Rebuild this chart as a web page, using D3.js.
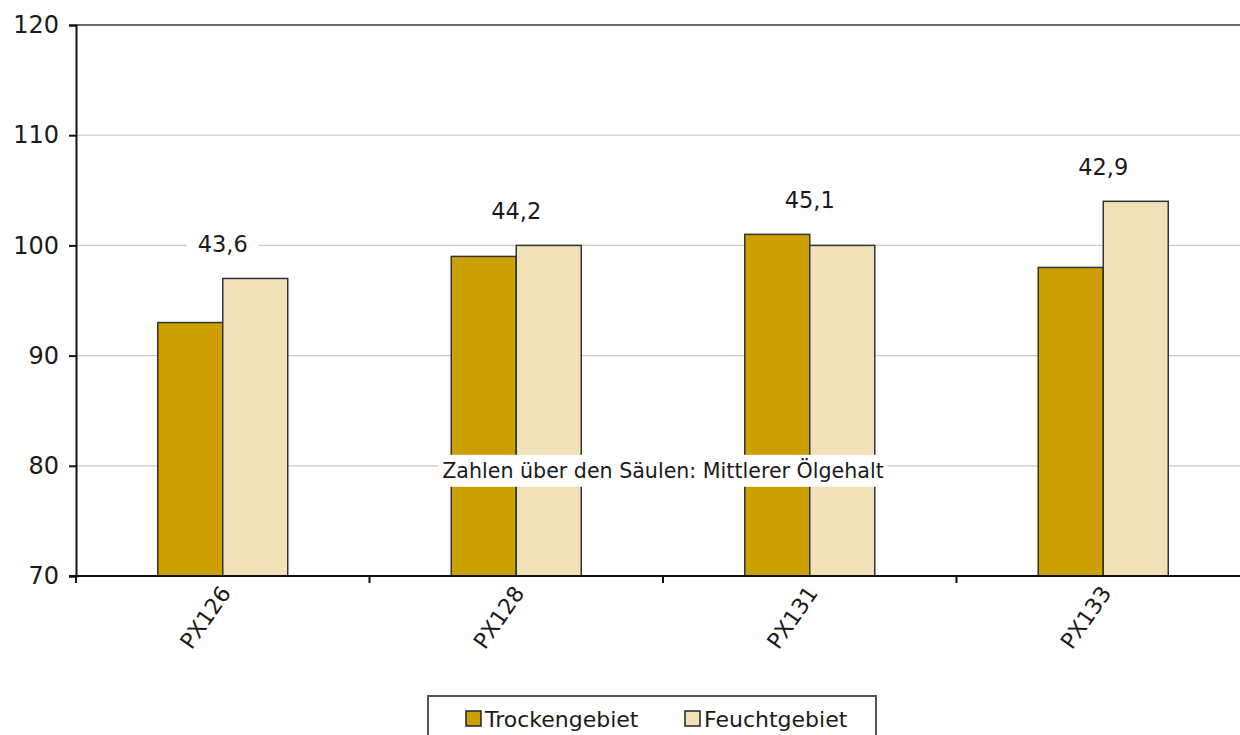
<!DOCTYPE html>
<html>
<head>
<meta charset="utf-8">
<script src="https://cdn.jsdelivr.net/npm/d3@7"></script>
<style>
  body { margin: 0; background: #fff; }
  svg { display: block; }
  text { font-family: "DejaVu Sans", sans-serif; fill: #1a1a1a; }
</style>
</head>
<body>
<svg width="1240" height="735"></svg>
<script>
// Data
const sorten = ['PX126', 'PX128', 'PX131', 'PX133'];
const serien = ['Trockengebiet', 'Feuchtgebiet'];
const trocken = [93, 99, 101, 98];
const feucht = [97, 100, 100, 104];
const oelgehalt = ['43,6', '44,2', '45,1', '42,9'];
const yTicks = [70, 80, 90, 100, 110, 120];
const farben = ['#cca000', '#f0e1b9'];

const svg = d3.select('svg');
const margin = { top: 25, left: 76 };
const plotRight = 1250;   // plot runs past the right edge of the picture
const plotBottom = 576;

const x = d3.scaleBand().domain(sorten).range([margin.left, plotRight]).paddingInner(0).paddingOuter(0);
const x1 = d3.scaleBand().domain(serien).range([0, 130]);
const y = d3.scaleLinear().domain([70, 120]).range([plotBottom, margin.top]);

// gridlines
svg.append('g')
  .selectAll('line')
  .data(yTicks.filter(t => t > 70 && t < 120))
  .enter()
  .append('line')
  .attr('x1', margin.left).attr('x2', plotRight)
  .attr('y1', d => y(d)).attr('y2', d => y(d))
  .attr('stroke', '#c8c8c8').attr('stroke-width', 1.2);

// top border of plot area
svg.append('line')
  .attr('x1', margin.left).attr('x2', plotRight)
  .attr('y1', y(120)).attr('y2', y(120))
  .attr('stroke', '#6e6e6e').attr('stroke-width', 2);

// bars
const groups = svg.append('g')
  .selectAll('g')
  .data(sorten)
  .enter()
  .append('g')
  .attr('transform', d => `translate(${x(d) + x.bandwidth() / 2 - 65}, 0)`);

groups.selectAll('rect')
  .data((d, i) => [trocken[i], feucht[i]].map((v, j) => ({ serie: serien[j], v: v, j: j })))
  .enter()
  .append('rect')
  .attr('x', d => x1(d.serie))
  .attr('width', x1.bandwidth())
  .attr('y', d => y(d.v))
  .attr('height', d => y(70) - y(d.v))
  .attr('fill', d => farben[d.j])
  .attr('stroke', '#333')
  .attr('stroke-width', 1.5);

// oil content labels above bars
const labels = svg.append('g')
  .selectAll('g')
  .data(sorten)
  .enter()
  .append('g')
  .attr('transform', (d, i) => `translate(${x(d) + x.bandwidth() / 2}, ${y(Math.max(trocken[i], feucht[i])) - 34})`);
labels.append('rect')
  .attr('x', -36).attr('y', -14).attr('width', 72).attr('height', 28)
  .attr('fill', '#fff');
labels.append('text')
  .attr('text-anchor', 'middle')
  .attr('dy', '0.35em')
  .style('font-size', '22.5px')
  .text((d, i) => oelgehalt[i]);

// annotation with white box, drawn over the bars
const note = svg.append('g').attr('transform', `translate(${x('PX131')}, ${y(80) + 5})`);
const noteText = note.append('text')
  .attr('text-anchor', 'middle')
  .attr('dy', '0.35em')
  .style('font-size', '20.6px')
  .text('Zahlen über den Säulen: Mittlerer Ölgehalt');
const nw = noteText.node().getComputedTextLength();
note.insert('rect', 'text')
  .attr('x', -nw / 2 - 4).attr('y', -16).attr('width', nw + 8).attr('height', 32)
  .attr('fill', '#fff');

// y axis
const yAxis = svg.append('g')
  .attr('transform', `translate(${margin.left}, 0)`)
  .call(d3.axisLeft(y).tickValues(yTicks).tickSize(7).tickPadding(10).tickFormat(d3.format('d')));
yAxis.select('.domain').attr('stroke', '#111').attr('stroke-width', 2);
yAxis.selectAll('.tick line').attr('stroke', '#111').attr('stroke-width', 2);
yAxis.selectAll('text').style('font-size', '24px').attr('fill', '#1a1a1a');

// x axis: ticks at the category boundaries
const bounds = sorten.map(d => x(d)).concat([x.range()[1]]);
const xAxis = svg.append('g')
  .attr('transform', `translate(0, ${plotBottom})`);
xAxis.append('line')
  .attr('x1', margin.left - 7).attr('x2', plotRight)
  .attr('stroke', '#111').attr('stroke-width', 2);
xAxis.selectAll('.bt')
  .data(bounds)
  .enter()
  .append('line')
  .attr('class', 'bt')
  .attr('x1', d => d).attr('x2', d => d)
  .attr('y1', 0).attr('y2', 7)
  .attr('stroke', '#111').attr('stroke-width', 2);
xAxis.selectAll('.xl')
  .data(sorten)
  .enter()
  .append('text')
  .attr('class', 'xl')
  .attr('text-anchor', 'end')
  .attr('transform', d => `translate(${x(d) + x.bandwidth() / 2 + 9}, 17) rotate(-55)`)
  .style('font-size', '22px')
  .text(d => d);

// legend
const legend = svg.append('g').attr('transform', 'translate(428, 696)');
legend.append('rect')
  .attr('x', 0).attr('y', 0).attr('width', 448).attr('height', 60)
  .attr('fill', '#fff').attr('stroke', '#555').attr('stroke-width', 2);
const lx = [38, 257];
const items = legend.selectAll('.li')
  .data(serien)
  .enter()
  .append('g')
  .attr('class', 'li')
  .attr('transform', (d, i) => `translate(${lx[i]}, 15)`);
items.append('rect')
  .attr('width', 15).attr('height', 15)
  .attr('fill', (d, i) => farben[i])
  .attr('stroke', '#222').attr('stroke-width', 1.5);
items.append('text')
  .attr('x', 19).attr('y', 16)
  .style('font-size', '22px')
  .text(d => d);
</script>
</body>
</html>
